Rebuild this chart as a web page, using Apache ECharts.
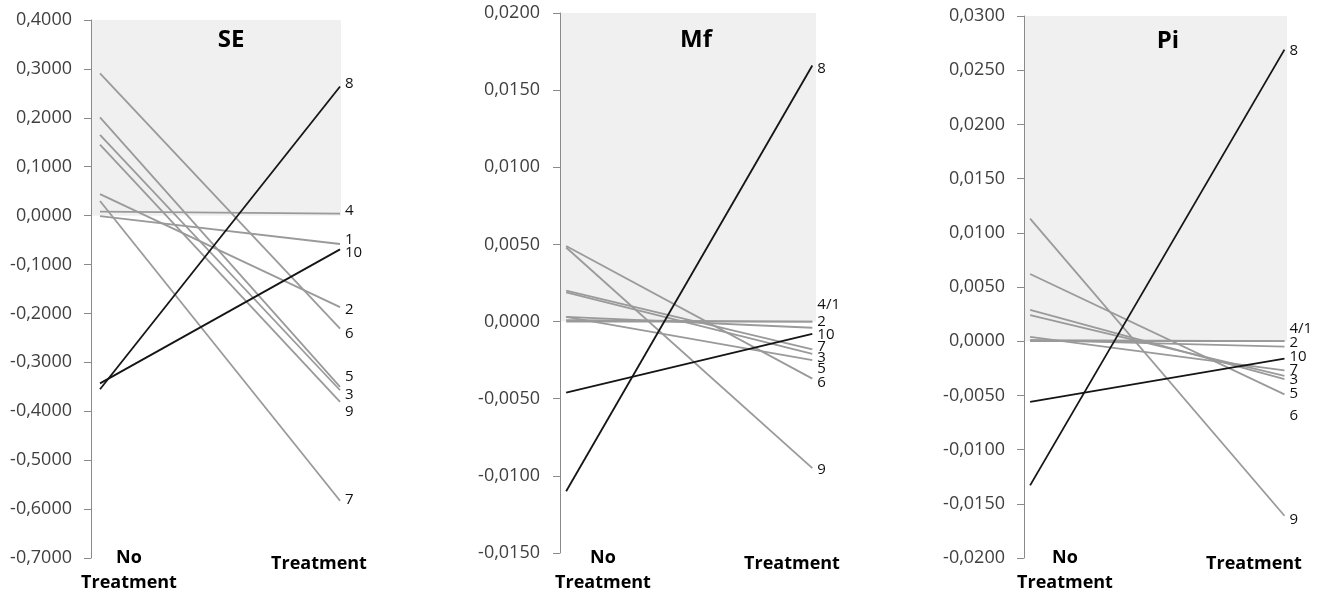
<!DOCTYPE html>
<html>
<head>
<meta charset="utf-8">
<script src="https://cdn.jsdelivr.net/npm/echarts@6/dist/echarts.min.js"></script>
<style>
  html, body { margin: 0; padding: 0; background: #fff; }
  #main { width: 1318px; height: 594px; }
</style>
</head>
<body>
<div id="main"></div>
<script>
// line ids 1..10, value at "No Treatment" (start) and at "Treatment" (end)
const lineIds = ['1', '2', '3', '4', '5', '6', '7', '8', '9', '10'];

const seStart = [-0.001, 0.044, 0.165, 0.008, 0.201, 0.291, 0.030, -0.355, 0.145, -0.343];
const seEnd   = [-0.058, -0.187, -0.357, 0.004, -0.350, -0.231, -0.583, 0.264, -0.381, -0.069];

const mfStart = [0.0000, 0.0003, 0.0019, 0.0001, 0.0003, 0.0049, 0.0020, -0.0110, 0.0048, -0.0046];
const mfEnd   = [0.0000, -0.0004, -0.0021, 0.0000, -0.0025, -0.0037, -0.0018, 0.0166, -0.0095, -0.0008];

const piStart = [0.0000, 0.0001, 0.0024, 0.0001, 0.0029, 0.0062, 0.0004, -0.0133, 0.0113, -0.0056];
const piEnd   = [0.0000, -0.0005, -0.0032, 0.0000, -0.0035, -0.0049, -0.0027, 0.0269, -0.0161, -0.0016];

// end labels (4 and 1 share one label in Mf and Pi)
const seLabels = ['1', '2', '3', '4', '5', '6', '7', '8', '9', '10'];
const mfLabels = ['', '2', '3', '4/1', '5', '6', '7', '8', '9', '10'];
const piLabels = ['', '2', '3', '4/1', '5', '6', '7', '8', '9', '10'];

// vertical nudges for the end labels (px), so they don't collide
const seDy = [-4, 3, 4, -3, -10, 5, -1, -3, 10, 3];
const mfDy = [0, -6, 4, -17, 9, 4, -3, 3, 2, 1];
const piDy = [0, -4, 4, -12, 15, 21, -1, 1, 4, -2];

const darkIds = ['8', '10'];

const panels = [
  { title: 'SE', start: seStart, end: seEnd, labels: seLabels, dy: seDy,
    grid: { left: 91, top: 20, width: 250, height: 538 },
    xMin: -0.0375, xMax: 1.004, yMin: -0.7, yMax: 0.4, yStep: 0.1, labelMargin: 19,
    titleX: 231, titleY: 40, noX: 129, trX: 319 },
  { title: 'Mf', start: mfStart, end: mfEnd, labels: mfLabels, dy: mfDy,
    grid: { left: 560, top: 13, width: 256, height: 540 },
    xMin: -0.025, xMax: 1.015, yMin: -0.015, yMax: 0.02, yStep: 0.005, labelMargin: 20,
    titleX: 696, titleY: 40, noX: 603, trX: 792 },
  { title: 'Pi', start: piStart, end: piEnd, labels: piLabels, dy: piDy,
    grid: { left: 1024, top: 16, width: 263, height: 542 },
    xMin: -0.024, xMax: 1.01, yMin: -0.02, yMax: 0.03, yStep: 0.005, labelMargin: 19,
    titleX: 1168, titleY: 41, noX: 1065, trX: 1254 }
];

const FONT = '"Open Sans", "Noto Sans", sans-serif';

const grids = [], xAxes = [], yAxes = [], series = [], graphics = [];

panels.forEach(function (p, gi) {
  grids.push(p.grid);
  xAxes.push({
    type: 'value', gridIndex: gi, min: p.xMin, max: p.xMax,
    show: false
  });
  yAxes.push({
    type: 'value', gridIndex: gi, min: p.yMin, max: p.yMax, interval: p.yStep,
    z: 5,
    axisLine: { show: true, onZero: false, lineStyle: { color: '#8a8a8a', width: 1 } },
    axisTick: { show: true, length: 7, lineStyle: { color: '#8a8a8a' } },
    splitLine: { show: false },
    axisLabel: {
      margin: p.labelMargin,
      fontFamily: FONT, fontSize: 18, color: '#404040',
      formatter: function (v) { return v.toFixed(4).replace('.', ','); }
    }
  });

  // grey shading above zero
  series.push({
    type: 'line', xAxisIndex: gi, yAxisIndex: gi, z: 1,
    data: [[p.xMin, 0]], showSymbol: false, silent: true,
    lineStyle: { width: 0 },
    markArea: {
      silent: true,
      itemStyle: { color: '#f0f0f0' },
      data: [[{ xAxis: p.xMin, yAxis: 0 }, { xAxis: p.xMax, yAxis: p.yMax }]]
    }
  });

  lineIds.forEach(function (id, i) {
    const dark = darkIds.indexOf(id) >= 0;
    const txt = p.labels[i];
    series.push({
      name: p.title + ' ' + id,
      type: 'line', xAxisIndex: gi, yAxisIndex: gi,
      z: dark ? 4 : 3,
      showSymbol: false, symbol: 'none',
      lineStyle: { color: dark ? '#151515' : '#9a9a9a', width: 1.8 },
      endLabel: {
        show: txt !== '', distance: 5,
        offset: [0, p.dy[i]],
        formatter: txt,
        fontFamily: FONT, fontSize: 15, color: '#111'
      },
      data: [[0, p.start[i]], [1, p.end[i]]]
    });
  });

  graphics.push(
    { type: 'text', x: p.titleX, y: p.titleY, z: 100,
      style: { text: p.title, font: 'bold 24px ' + FONT, fill: '#000', align: 'center', verticalAlign: 'middle' } },
    { type: 'text', x: p.noX, y: 558, z: 100,
      style: { text: 'No', font: 'bold 18px ' + FONT, fill: '#000', align: 'center', verticalAlign: 'middle' } },
    { type: 'text', x: p.noX, y: 583, z: 100,
      style: { text: 'Treatment', font: 'bold 18px ' + FONT, fill: '#000', align: 'center', verticalAlign: 'middle' } },
    { type: 'text', x: p.trX, y: 564, z: 100,
      style: { text: 'Treatment', font: 'bold 18px ' + FONT, fill: '#000', align: 'center', verticalAlign: 'middle' } }
  );
});

const chart = echarts.init(document.getElementById('main'));
chart.setOption({
  animation: false,
  backgroundColor: '#fff',
  grid: grids,
  xAxis: xAxes,
  yAxis: yAxes,
  series: series,
  graphic: { elements: graphics }
});
</script>
</body>
</html>
